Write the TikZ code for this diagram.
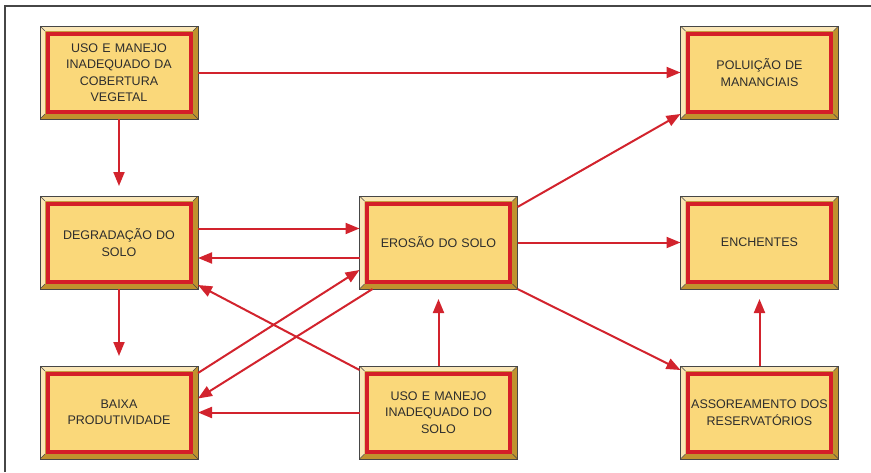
\documentclass[tikz,border=0pt]{standalone}
\usepackage{fontspec}
\setmainfont{Liberation Sans}
\usepackage{tikz}
\usetikzlibrary{positioning,arrows.meta,calc}
\definecolor{boxFill}{RGB}{250,216,122}
\definecolor{boxLight}{RGB}{250,230,182}
\definecolor{boxDark}{RGB}{192,146,46}
\definecolor{boxRed}{RGB}{212,30,40}
\definecolor{boxEdge}{RGB}{70,70,70}
\definecolor{arrowRed}{RGB}{210,35,45}
\definecolor{txtGray}{RGB}{45,45,45}
\tikzset{
    base/.style={font=\fontsize{12.5}{16.5}\selectfont, align=center, text=txtGray},
    panel/.style={base, rectangle, draw=boxEdge, line width=0.6pt, fill=boxDark,
                  minimum width=158pt, minimum height=93pt, text width=150pt,
                  inner sep=0pt, outer sep=0pt,
                  path picture={
                    \fill[boxLight] (path picture bounding box.south west)
                      -- (path picture bounding box.north west)
                      -- (path picture bounding box.north east)
                      -- ([shift={(-5pt,-5pt)}]path picture bounding box.north east)
                      -- ([shift={(5pt,-5pt)}]path picture bounding box.north west)
                      -- ([shift={(5pt,5pt)}]path picture bounding box.south west) -- cycle;
                    \draw[boxEdge, line width=0.6pt]
                      (path picture bounding box.north west) -- ++(5pt,-5pt)
                      (path picture bounding box.north east) -- ++(-5pt,-5pt)
                      (path picture bounding box.south west) -- ++(5pt,5pt)
                      (path picture bounding box.south east) -- ++(-5pt,5pt);
                    \draw[boxRed, line width=4pt, fill=boxFill]
                      ([shift={(7.5pt,7.5pt)}]path picture bounding box.south west) rectangle
                      ([shift={(-7.5pt,-7.5pt)}]path picture bounding box.north east);
                  }},
    flow/.style={-{Triangle[length=14pt, width=11pt]}, line width=2pt, color=arrowRed}
}
\begin{document}
\begin{tikzpicture}[x=1pt, y=-1pt]
  \useasboundingbox (0,0) rectangle (871,472);
  \draw[boxEdge, line width=2pt] (5,472) -- (5,6) -- (871,6);

  \node[panel] (usocob) at (119,72.5) {USO E MANEJO\\ INADEQUADO DA\\ COBERTURA\\ VEGETAL};
  \node[panel] (poluicao) at (759.5,72.5) {POLUIÇÃO DE\\ MANANCIAIS};
  \node[panel] (degradacao) at (119,242.5) {DEGRADAÇÃO DO\\ SOLO};
  \node[panel] (erosao) at (438.5,242.5) {EROSÃO DO SOLO};
  \node[panel] (enchentes) at (759.5,242.5) {ENCHENTES};
  \node[panel] (baixa) at (119,412.5) {BAIXA\\ PRODUTIVIDADE};
  \node[panel] (usosolo) at (438.5,412.5) {USO E MANEJO\\ INADEQUADO DO\\ SOLO};
  \node[panel] (assoreamento) at (759.5,412.5) {ASSOREAMENTO DOS\\ RESERVATÓRIOS};

  \draw[flow] (usocob) -- (poluicao);
  \draw[flow, shorten >=10pt] (usocob) -- (degradacao);
  \draw[flow, shorten >=10pt] (degradacao) -- (baixa);
  \draw[flow] ([yshift=14pt]degradacao.east) -- ([yshift=14pt]erosao.west);
  \draw[flow] ([yshift=-15.5pt]erosao.west) -- ([yshift=-15.5pt]degradacao.east);
  \draw[flow] (erosao) -- (enchentes);
  \draw[flow] ([yshift=-11pt]erosao.north east) -- ([yshift=5pt]poluicao.south west);
  \draw[flow] (erosao.south east) -- ([yshift=-4pt]assoreamento.north west);
  \draw[flow, shorten >=10pt] (assoreamento) -- (enchentes);
  \draw[flow, shorten >=10pt] (usosolo) -- (erosao);
  \draw[flow] (usosolo) -- (baixa);
  \draw[flow] ([yshift=-4pt]usosolo.north west) -- ([yshift=4pt]degradacao.south east);
  \draw[flow] ([yshift=-7pt]baixa.north east) -- ([yshift=19pt]erosao.south west);
  \draw[flow] ([xshift=13pt]erosao.south west) -- ([yshift=14pt]baixa.east);
\end{tikzpicture}
\end{document}
